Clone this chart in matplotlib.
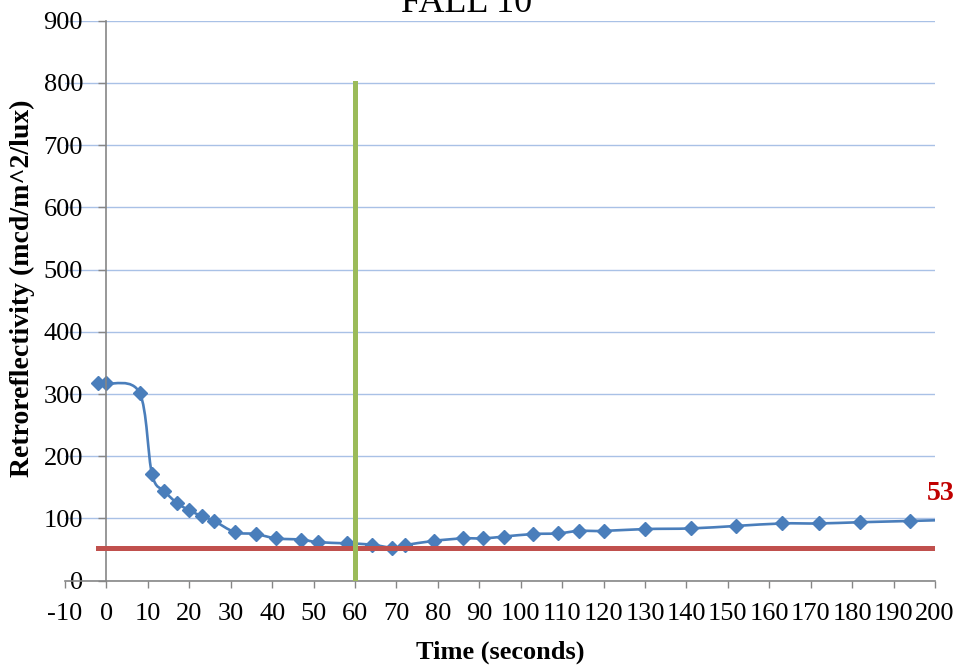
import numpy as np
import matplotlib.pyplot as plt
from matplotlib.path import Path
from matplotlib.patches import PathPatch

plt.rcParams['font.family'] = ['Liberation Serif', 'DejaVu Serif']
plt.rcParams['axes.unicode_minus'] = False

# readings taken off the chart
time_s = [-2, 0, 8, 11, 14, 17, 20, 23, 26, 31, 36, 41, 47, 51, 58, 64, 69, 72,
          79, 86, 91, 96, 103, 109, 114, 120, 130, 141, 152, 163, 172, 182, 194, 205]
retro = [317, 317, 302, 171, 144, 125, 113, 104, 96, 78, 75, 68, 66, 62, 60, 58, 53, 57,
         64, 68, 68, 71, 75, 76, 80, 80, 83, 84, 88, 92, 92, 94, 96, 98]
threshold = 53
cutoff_time = 60
cutoff_top = 800

x_ticks = list(range(-10, 201, 10))
y_ticks = list(range(0, 901, 100))

blue = '#4A7EBB'
green = '#9BBB59'
red = '#C0504D'
axis_gray = '#868686'


def smooth_path(x, y):
    # excel style smoothed line: cubic bezier through every point
    pts = np.column_stack([x, y]).astype(float)
    n = len(pts)
    verts = [pts[0]]
    codes = [Path.MOVETO]
    for i in range(n - 1):
        p0 = pts[max(i - 1, 0)]
        p1 = pts[i]
        p2 = pts[i + 1]
        p3 = pts[min(i + 2, n - 1)]
        verts += [p1 + (p2 - p0) / 6, p2 - (p3 - p1) / 6, p2]
        codes += [Path.CURVE4] * 3
    return Path(verts, codes)


fig = plt.figure(figsize=(9.6, 6.68), dpi=100)
ax = fig.add_axes([65 / 960, 1 - 580.7 / 668, 870 / 960, 560 / 668])

ax.add_patch(PathPatch(smooth_path(time_s, retro), facecolor='none',
                       edgecolor=blue, lw=1.9, zorder=2))
ax.plot(time_s, retro, ls='none', marker='D', ms=7.2, color=blue, zorder=2.5)

ax.plot([time_s[0], time_s[-1]], [threshold, threshold], color=red, lw=3.6, zorder=3)
ax.plot([cutoff_time, cutoff_time], [0, cutoff_top], color=green, lw=3.6, zorder=4)

ax.annotate(str(threshold), xy=(200, threshold), xytext=(4, 39), textcoords='offset points',
            ha='center', va='center', fontsize=20, fontweight='bold', color='#C00000',
            annotation_clip=False)

ax.set_xlim(-10, 200)
ax.set_ylim(0, 900)
ax.set_xticks(x_ticks)
ax.set_yticks(y_ticks)

for s in ['top', 'right']:
    ax.spines[s].set_visible(False)
ax.spines['left'].set_position(('data', 0))
for s in ['left', 'bottom']:
    ax.spines[s].set_color(axis_gray)
    ax.spines[s].set_linewidth(1.2)

ax.tick_params(axis='y', direction='out', length=5.8, width=1, color=axis_gray,
               pad=11, labelsize=19)
ax.tick_params(axis='x', direction='out', length=5, width=1, color=axis_gray,
               pad=11, labelsize=19)

ax.yaxis.grid(True, color='#A9C1E6', lw=1)
ax.set_axisbelow(True)

fig.text(467 / 960, 1 - 12 / 668, 'FALL 10', fontsize=26, ha='center', va='baseline')
fig.text(500 / 960, 1 - 652 / 668, 'Time (seconds)', fontsize=19, fontweight='bold',
         ha='center', va='center')
fig.text(22 / 960, 1 - 288 / 668, 'Retroreflectivity (mcd/m^2/lux)', fontsize=20,
         fontweight='bold', rotation=90, ha='center', va='center')

fig.savefig('out.png', dpi=100)
